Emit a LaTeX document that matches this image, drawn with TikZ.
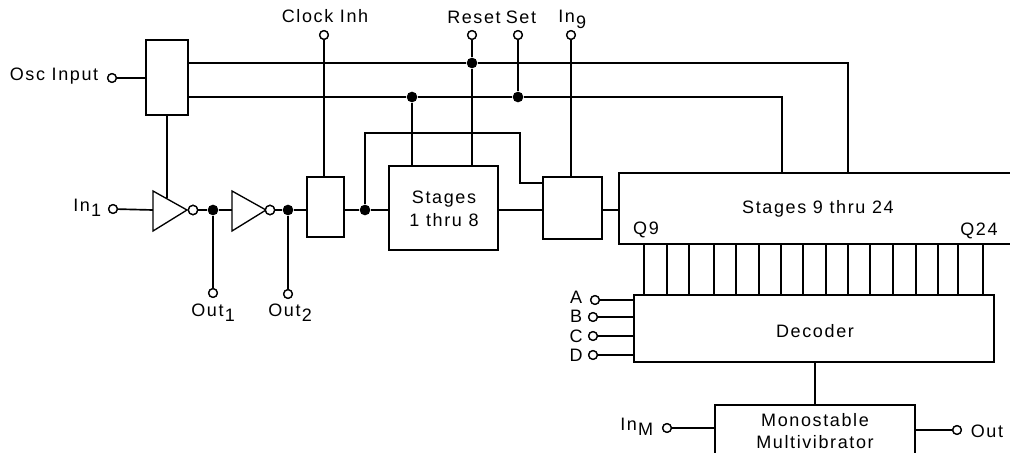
\documentclass[tikz,border=0pt]{standalone}
\usepackage{fontspec}
\setmainfont[LetterSpace=9]{Liberation Sans}
\def\pxu{0.75pt}
\newcommand{\sbs}[1]{\kern1pt\raisebox{-4pt}{#1}}
\tikzset{
  wire/.style={line width=1.25pt,black},
  box/.style={draw=black,line width=1.25pt,fill=white,inner sep=0pt},
  term/.style={circle,draw=black,line width=1pt,fill=white,minimum size=6.5pt,inner sep=0pt},
  junc/.style={circle,fill=black,minimum size=8pt,inner sep=0pt},
  bubble/.style={circle,draw=black,line width=1pt,fill=white,minimum size=7pt,inner sep=0pt},
  lbl/.style={inner sep=0pt,font=\fontsize{13.5pt}{16pt}\selectfont,text=black,align=center},
  inv/.style={draw=black,line width=1pt,fill=white,line join=miter}
}
\begin{document}
\begin{tikzpicture}[x=0.75pt,y=-0.75pt]
\path[use as bounding box] (0,0) rectangle (1010,453);
\clip (0,0) rectangle (1010,453);
% terminals
\node[term] (tosc) at (112,78) {};
\node[term] (tin1) at (113,209) {};
\node[term] (tclk) at (324,35) {};
\node[term] (trst) at (472,35) {};
\node[term] (tset) at (518,35) {};
\node[term] (tin9) at (571,35) {};
\node[term] (tout1) at (213,293) {};
\node[term] (tout2) at (288,294) {};
\node[term] (ta) at (595,300) {};
\node[term] (tb) at (593,317) {};
\node[term] (tc) at (593,336) {};
\node[term] (td) at (593,355) {};
\node[term] (tinm) at (667,428) {};
\node[term] (tout) at (957,430) {};
% boxes
\node[box,minimum width=42*\pxu,minimum height=75*\pxu] (osc) at (167,77.5) {};
\node[box,minimum width=37*\pxu,minimum height=60*\pxu] (clkbox) at (325.5,207) {};
\node[box,minimum width=109*\pxu,minimum height=84*\pxu] (st1) at (443.5,208) {};
\node[box,minimum width=59*\pxu,minimum height=62*\pxu] (gate9) at (572.5,208) {};
\node[box,minimum width=411*\pxu,minimum height=71*\pxu] (st9) at (824.5,208.5) {};
\node[box,minimum width=360*\pxu,minimum height=67*\pxu] (dec) at (814,328.5) {};
\node[box,minimum width=200*\pxu,minimum height=70*\pxu] (mono) at (815,440) {};
% inverters
\node[bubble] (b1) at (193,210) {};
\node[bubble] (b2) at (270,210) {};
\coordinate (i1) at (153,210);
\coordinate (i2) at (232,210);
% junctions
\node[junc] (j1) at (213,210) {};
\node[junc] (j2) at (288,210) {};
\node[junc] (j3) at (365,210) {};
\node[junc] (jr) at (472,63) {};
\node[junc] (jl) at (412,97) {};
\node[junc] (js) at (518,97) {};
% turning points
\coordinate (c1) at (848,63);
\coordinate (c2) at (782,97);
\coordinate (c3) at (365,133);
\coordinate (c4) at (520,133);
\coordinate (c5) at (520,183);
% wires
\draw[wire] (tosc) -- (tosc -| osc.west);
\draw[wire] (osc.east |- jr) -- (jr) -- (c1) -- (c1 |- st9.north);
\draw[wire] (osc.east |- jl) -- (jl) -- (js) -- (c2) -- (c2 |- st9.north);
\draw[wire] (tclk) -- (tclk |- clkbox.north);
\draw[wire] (trst) -- (jr) -- (jr |- st1.north);
\draw[wire] (tset) -- (js);
\draw[wire] (tin9) -- (tin9 |- gate9.north);
\draw[wire] (jl) -- (jl |- st1.north);
\draw[wire] (osc.south) -- (167,198);
\draw[wire] (tin1) -- (i1);
\draw[wire] (b1) -- (j1) -- (i2);
\draw[wire] (b2) -- (j2) -- (j2 -| clkbox.west);
\draw[wire] (j1) -- (tout1);
\draw[wire] (j2) -- (tout2);
\draw[wire] (j3 -| clkbox.east) -- (j3) -- (j3 -| st1.west);
\draw[wire] (j3) -- (c3) -- (c4) -- (c5) -- (c5 -| gate9.west);
\draw[wire] (j3 -| st1.east) -- (j3 -| gate9.west);
\draw[wire] (j3 -| gate9.east) -- (j3 -| st9.west);
\foreach \xx in {644,667,689,714,736,759,781,803,826,848,870,893,916,938,958,983}
  \draw[wire] (\xx,244) -- (\xx,295);
\draw[wire] (ta) -- (ta -| dec.west);
\draw[wire] (tb) -- (tb -| dec.west);
\draw[wire] (tc) -- (tc -| dec.west);
\draw[wire] (td) -- (td -| dec.west);
\draw[wire] (mono.north |- dec.south) -- (mono.north);
\draw[wire] (tinm) -- (tinm -| mono.west);
\draw[wire] (tout) -- (tout -| mono.east);
% redraw on top of wires
\draw[inv] (153,191) -- (153,231) -- (187,210) -- cycle;
\draw[inv] (232,191) -- (232,231) -- (266,210) -- cycle;
\node[bubble] at (b1) {};
\node[bubble] at (b2) {};
\node[term] at (tosc) {};
\node[term] at (tin1) {};
\node[term] at (tout1) {};
\node[term] at (tout2) {};
\node[term] at (tclk) {};
\node[term] at (trst) {};
\node[term] at (tset) {};
\node[term] at (tin9) {};
\node[term] at (ta) {};
\node[term] at (tb) {};
\node[term] at (tc) {};
\node[term] at (td) {};
\node[term] at (tinm) {};
\node[term] at (tout) {};
% labels
\node[lbl] (lclk) at (325,16) {Clock Inh};
\node[lbl] (lrst) at (474,17) {Reset};
\node[lbl] (lset) at (521,17) {Set};
\node[lbl,anchor=base west] (lin9) at (558,23) {In\sbs{9}};
\node[lbl] (losc) at (54,76) {Osc Input};
\node[lbl,anchor=base west] (lin1) at (73,211) {In\sbs{1}};
\node[lbl,anchor=base west] (lo1) at (191,316) {Out\sbs{1}};
\node[lbl,anchor=base west] (lo2) at (268,316) {Out\sbs{2}};
\node[lbl] (lst1) at (444,209) {Stages\\[1pt]1 thru 8};
\node[lbl] (lst9) at (818,209) {Stages 9 thru 24};
\node[lbl] (lq9) at (646,230) {Q9};
\node[lbl] (lq24) at (979,231) {Q24};
\node[lbl] (ldec) at (815,331) {Decoder};
\node[lbl] (la) at (576,297) {A};
\node[lbl] (lb) at (576,316) {B};
\node[lbl] (lc) at (576,336) {C};
\node[lbl] (ld) at (576,355) {D};
\node[lbl,anchor=base west] (linm) at (620,430) {In\sbs{M}};
\node[lbl] (lout) at (987,431) {Out};
\node[lbl] (lmono) at (815,431) {Monostable\\[1pt]Multivibrator};
\end{tikzpicture}
\end{document}
